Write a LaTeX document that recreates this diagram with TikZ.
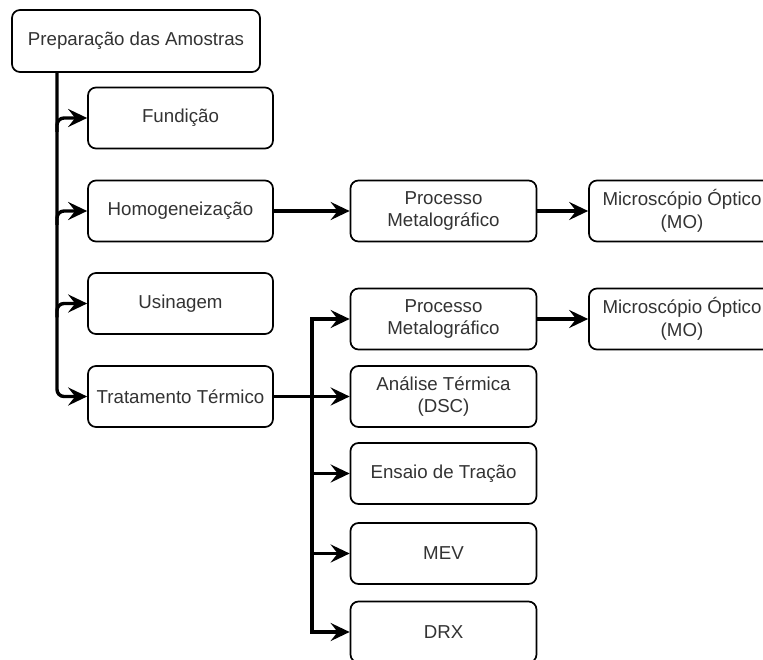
\documentclass[tikz,border=0pt]{standalone}
\usepackage{fontspec}
\setmainfont{Liberation Sans}
\usetikzlibrary{arrows.meta}
\definecolor{txt}{RGB}{51,51,51}
\tikzset{
  box/.style={draw=black, line width=1.7pt, rounded corners=8pt, fill=white,
    minimum height=61pt, inner sep=2pt, align=center, text=txt,
    font=\fontsize{18.7}{22.5}\selectfont},
  lbox/.style={box, minimum width=185pt},
  rbox/.style={box, minimum width=186pt},
  conn/.style={draw=black, line width=3.4pt},
  arr/.style={conn, -{Stealth[length=19pt,width=18pt,inset=7pt]}},
}
\begin{document}
\begin{tikzpicture}[x=1pt,y=-1pt]
\useasboundingbox (0,0) rectangle (763,660);
\clip (0,0) rectangle (763,660);
\node[box, minimum width=248pt, minimum height=62pt] (prep) at (136,41) {Preparação das Amostras};
\node[lbox] (fund) at (180.5,118) {Fundição};
\node[lbox] (homo) at (180.5,211) {Homogeneização};
\node[lbox] (usin) at (180.5,303.5) {Usinagem};
\node[lbox] (trat) at (180.5,396.5) {Tratamento Térmico};
\node[rbox] (proc1) at (443.5,211) {Processo\\Metalográfico};
\node[rbox] (mo1) at (682,211) {Microscópio Óptico\\(MO)};
\node[rbox] (proc2) at (443.5,319) {Processo\\Metalográfico};
\node[rbox] (mo2) at (682,319) {Microscópio Óptico\\(MO)};
\node[rbox] (anal) at (443.5,396.5) {Análise Térmica\\(DSC)};
\node[rbox] (ens) at (443.5,473.5) {Ensaio de Tração};
\node[rbox] (mev) at (443.5,553.5) {MEV};
\node[rbox] (drx) at (443.5,632) {DRX};
\coordinate (lb) at (57,0);
\coordinate (rb) at (312,0);
% left bus
\draw[arr, rounded corners=7pt] (prep.south -| lb) |- (trat.west);
\draw[arr, rounded corners=7pt] ([yshift=-14pt]fund.west -| lb) |- (fund.west);
\draw[arr, rounded corners=7pt] ([yshift=-14pt]homo.west -| lb) |- (homo.west);
\draw[arr, rounded corners=7pt] ([yshift=-14pt]usin.west -| lb) |- (usin.west);
% horizontal links
\draw[arr] (homo.east) -- (proc1.west);
\draw[arr] (proc1.east) -- (mo1.west);
\draw[arr] (proc2.east) -- (mo2.west);
\draw[arr] (trat.east) -- (anal.west);
% right bus
\draw[arr] (drx.west -| rb) |- (proc2.west);
\draw[arr] (proc2.west -| rb) |- (drx.west);
\draw[arr] (ens.west -| rb) -- (ens.west);
\draw[arr] (mev.west -| rb) -- (mev.west);
\end{tikzpicture}
\end{document}
